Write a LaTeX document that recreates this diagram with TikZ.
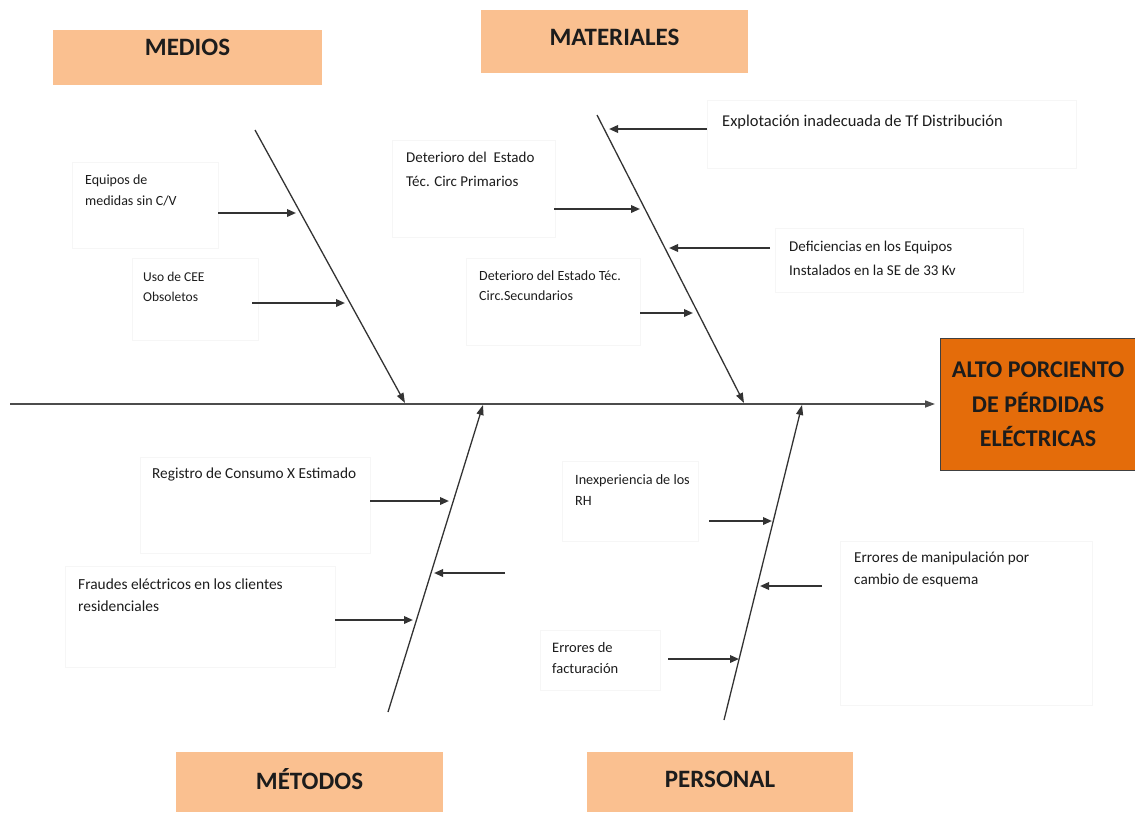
\documentclass[tikz,border=0pt]{standalone}
\usepackage{fontspec}
\setmainfont{Carlito}
\usetikzlibrary{arrows.meta}
\definecolor{catfill}{HTML}{FAC090}
\definecolor{headfill}{HTML}{E46C0A}
\definecolor{ink}{HTML}{1C1C1C}

\begin{document}
\begin{tikzpicture}[x=1pt,y=-1pt,
  catbox/.style={fill=catfill, draw=none, inner sep=0pt, anchor=north west},
  cattext/.style={font=\fontsize{25}{30}\selectfont\bfseries, text=ink, inner sep=0pt},
  headbox/.style={fill=headfill, draw=black!75, line width=1.2pt, anchor=north west,
    minimum width=195pt, minimum height=132pt, align=center, text=ink,
    font=\fontsize{24}{34.5}\selectfont\bfseries},
  bone/.style={draw=black!80, line width=1.3pt, -{Triangle[length=10pt,width=7pt]}},
  cause/.style={draw=black!80, line width=1.9pt, -{Triangle[length=9pt,width=7.5pt]}},
  note/.style={anchor=west, align=left, inner sep=0pt, text=ink},
  frame/.style={draw=black!3.5, line width=0.6pt},
]
\useasboundingbox (0,0) rectangle (1135,812);

% faint text frames behind the cause labels
\draw[frame] (72,162) rectangle (218,248);
\draw[frame] (132,258) rectangle (258,340);
\draw[frame] (392,140) rectangle (555,237);
\draw[frame] (466,258) rectangle (640,345);
\draw[frame] (707,100) rectangle (1076,168);
\draw[frame] (775,228) rectangle (1023,292);
\draw[frame] (140,457) rectangle (370,553);
\draw[frame] (65,566) rectangle (335,667);
\draw[frame] (562,461) rectangle (698,541);
\draw[frame] (840,541) rectangle (1092,705);
\draw[frame] (540,630) rectangle (660,690);

% category boxes
\node[catbox, minimum width=269pt, minimum height=55pt] (medios) at (53,30) {};
\node[cattext] (mediosT) at (187.5,47) {MEDIOS};
\node[catbox, minimum width=267pt, minimum height=63pt] (materiales) at (481,10) {};
\node[cattext] (materialesT) at (614.5,37) {MATERIALES};
\node[catbox, minimum width=267pt, minimum height=60pt] (metodos) at (176,752) {};
\node[cattext] (metodosT) at (309.5,779) {MÉTODOS};
\node[catbox, minimum width=266pt, minimum height=60pt] (personal) at (587,752) {};
\node[cattext] (personalT) at (720,779) {PERSONAL};

% effect
\node[headbox] (head) at (940,338) {ALTO PORCIENTO\\DE PÉRDIDAS\\ELÉCTRICAS};

% spine
\coordinate (tail) at (10,404);
\draw[bone, line width=1.6pt, draw=black!70] (tail) -- ([xshift=-5pt]head.west |- tail);

% main bones
\coordinate (b1s) at (255,130); \coordinate (b1e) at (405,403);
\coordinate (b2s) at (597,115); \coordinate (b2e) at (744,403);
\coordinate (b3s) at (388,712); \coordinate (b3e) at (483,405);
\coordinate (b4s) at (724,720); \coordinate (b4e) at (802,405);
\draw[bone] (b1s) -- (b1e);
\draw[bone] (b2s) -- (b2e);
\draw[bone] (b3s) -- (b3e);
\draw[bone] (b4s) -- (b4e);

% cause labels
\node[note, font=\fontsize{14}{21}\selectfont] (c1) at (85,190) {Equipos de\\medidas sin C/V};
\node[note, font=\fontsize{13.5}{20}\selectfont] (c2) at (143,287) {Uso de CEE\\Obsoletos};
\node[note, font=\fontsize{15}{24}\selectfont] (c3) at (406,169) {Deterioro del\ \ Estado\\Téc. Circ Primarios};
\node[note, font=\fontsize{14}{20}\selectfont] (c4) at (479,286) {Deterioro del Estado Téc.\\Circ.Secundarios};
\node[note, font=\fontsize{16.5}{20}\selectfont] (c5) at (722,122) {Explotación inadecuada de Tf Distribución};
\node[note, font=\fontsize{15}{24}\selectfont] (c6) at (789,258) {Deficiencias en los Equipos\\Instalados en la SE de 33 Kv};
\node[note, font=\fontsize{15.3}{20}\selectfont] (c7) at (152,474) {Registro de Consumo X Estimado};
\node[note, font=\fontsize{15.4}{22}\selectfont] (c8) at (78,595) {Fraudes eléctricos en los clientes\\residenciales};
\node[note, font=\fontsize{14.2}{21}\selectfont] (c9) at (575,490) {Inexperiencia de los\\RH};
\node[note, font=\fontsize{15.2}{22}\selectfont] (c10) at (854,569) {Errores de manipulación por\\cambio de esquema};
\node[note, font=\fontsize{14.5}{21}\selectfont] (c11) at (552,658) {Errores de\\facturación};

% cause arrows
\coordinate (a1s) at (218,213); \coordinate (a1e) at (296,213);
\coordinate (a2s) at (252,303); \coordinate (a2e) at (345,303);
\coordinate (a3s) at (554,209); \coordinate (a3e) at (640,209);
\coordinate (a4s) at (640,313); \coordinate (a4e) at (693,313);
\coordinate (a5s) at (707,129); \coordinate (a5e) at (609,129);
\coordinate (a6s) at (770,248); \coordinate (a6e) at (669,248);
\coordinate (a7s) at (370,501); \coordinate (a7e) at (449,501);
\coordinate (a8s) at (505,573); \coordinate (a8e) at (434,573);
\coordinate (a9s) at (335,620); \coordinate (a9e) at (413,620);
\coordinate (a10s) at (709,521); \coordinate (a10e) at (772,521);
\coordinate (a11s) at (822,586); \coordinate (a11e) at (760,586);
\coordinate (a12s) at (668,659); \coordinate (a12e) at (739,659);
\foreach \i in {1,...,12} \draw[cause] (a\i s) -- (a\i e);
\end{tikzpicture}
\end{document}
